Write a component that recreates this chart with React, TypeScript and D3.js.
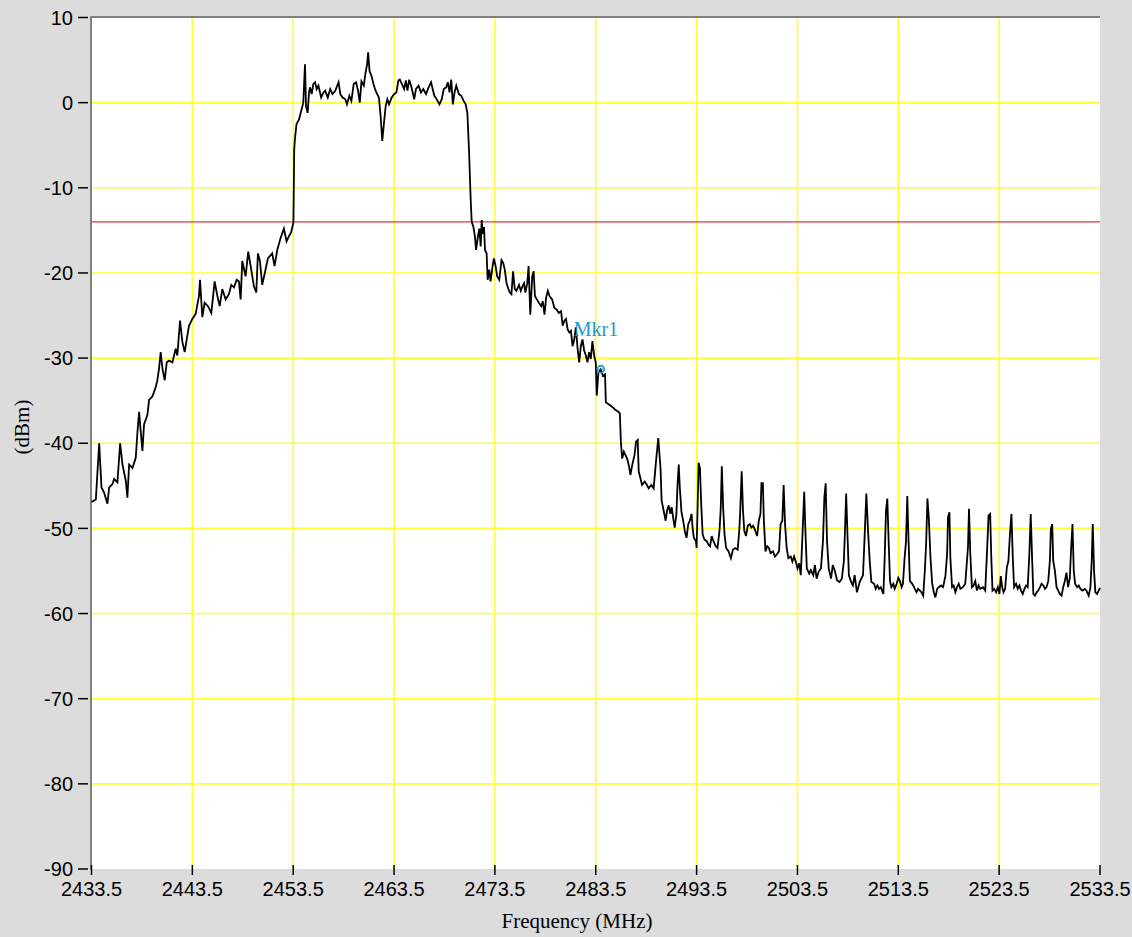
import React from 'react';
import * as d3 from 'd3';

// spectrum trace as [MHz, dBm]
const lowerSkirt: [number, number][] = [
  [2433.5, -46.9], [2433.93, -46.6], [2434.26, -40.0], [2434.49, -45.2], [2434.75, -45.8],
  [2435.08, -47.1], [2435.25, -45.2], [2435.58, -44.8], [2435.74, -44.2], [2436.07, -44.6],
  [2436.34, -40.0], [2436.57, -42.5], [2436.9, -44.4], [2437.06, -46.4], [2437.23, -42.5],
  [2437.56, -42.9], [2437.89, -41.7], [2438.05, -38.8], [2438.22, -36.3], [2438.38, -38.6],
  [2438.55, -40.9], [2438.71, -37.8], [2439.04, -36.7], [2439.21, -34.9], [2439.54, -34.5],
  [2439.87, -33.4], [2440.03, -32.6], [2440.2, -31.2], [2440.36, -29.3], [2440.53, -31.2],
  [2440.76, -32.6], [2440.96, -30.5], [2441.19, -30.3], [2441.52, -30.5], [2441.85, -28.9],
  [2442.01, -29.7], [2442.28, -25.6], [2442.51, -28.1], [2442.74, -29.3], [2443.0, -27.4],
  [2443.17, -26.2], [2443.5, -25.4], [2443.83, -24.8], [2444.16, -22.7], [2444.26, -20.8],
  [2444.49, -25.2], [2444.72, -23.5], [2445.05, -23.9], [2445.38, -24.7], [2445.71, -21.0],
  [2445.98, -22.7], [2446.21, -23.9], [2446.47, -21.9], [2446.8, -23.1], [2447.13, -22.5],
  [2447.36, -21.4], [2447.63, -21.7], [2447.89, -20.8], [2448.12, -21.0], [2448.29, -23.1],
  [2448.45, -18.6], [2448.78, -20.4], [2449.04, -17.5], [2449.28, -19.2], [2449.61, -21.6],
  [2449.84, -22.3], [2450.0, -17.7], [2450.2, -18.6], [2450.43, -21.4], [2450.76, -19.6],
  [2450.99, -18.3], [2451.42, -17.7], [2451.65, -19.2], [2451.92, -17.3], [2452.25, -15.9],
  [2452.58, -14.8], [2452.84, -16.3], [2453.07, -15.7], [2453.3, -15.2], [2453.52, -14.1],
  [2453.56, -10.0],
];

const passband: [number, number][] = [
  [2453.6, -5.5], [2453.67, -4.3], [2453.83, -2.5], [2454.07, -2.0], [2454.33, -0.8],
  [2454.5, 0.0], [2454.67, 4.5], [2454.77, -0.4], [2454.93, -1.2], [2455.07, 1.2],
  [2455.17, 1.8], [2455.33, 1.0], [2455.5, 2.2], [2455.67, 2.4], [2455.83, 1.6],
  [2456.0, 2.0], [2456.27, 0.6], [2456.5, 1.2], [2456.67, 1.4], [2456.93, 0.6],
  [2457.17, 1.6], [2457.4, 1.0], [2457.67, 1.4], [2458.0, 2.4], [2458.17, 1.0],
  [2458.4, 0.6], [2458.67, 0.4], [2458.83, -0.2], [2459.07, 0.8], [2459.27, 0.2],
  [2459.5, 2.2], [2459.73, 2.4], [2459.93, 1.4], [2460.1, 0.0], [2460.27, 2.5],
  [2460.5, 2.0], [2460.67, 3.5], [2460.83, 4.5], [2460.93, 5.9], [2461.07, 3.7],
  [2461.27, 3.1], [2461.5, 2.0], [2461.67, 1.4], [2461.83, 1.0], [2462.0, 0.6],
  [2462.17, -1.6], [2462.33, -4.5], [2462.5, -2.4], [2462.67, -0.4], [2462.83, 0.4],
  [2463.0, -0.2], [2463.27, 0.6], [2463.5, 1.0], [2463.73, 1.2], [2463.93, 2.6],
  [2464.07, 2.7], [2464.27, 2.2], [2464.5, 1.6], [2464.67, 2.6], [2464.83, 1.4],
  [2465.0, 2.7], [2465.23, 1.8], [2465.5, 0.4], [2465.67, 1.6], [2465.93, 2.0],
  [2466.17, 1.2], [2466.4, 1.6], [2466.67, 1.0], [2466.93, 1.8], [2467.17, 2.4],
  [2467.33, 1.6], [2467.5, 0.8], [2467.73, 0.4], [2468.0, -0.2], [2468.23, 0.4],
  [2468.43, 1.6], [2468.67, 1.8], [2468.83, 2.4], [2469.0, 1.2], [2469.17, 2.7],
  [2469.33, -0.2], [2469.5, 1.2], [2469.67, 2.0], [2469.93, 1.0], [2470.17, 0.8],
  [2470.4, 0.2], [2470.6, -0.2], [2470.77, -1.2], [2470.93, -5.5],
];

const upperSkirt: [number, number][] = [
  [2471.1, -11.4], [2471.2, -14.0], [2471.37, -14.6], [2471.53, -15.8], [2471.63, -17.3],
  [2471.76, -16.2], [2471.86, -15.4], [2471.96, -14.8], [2472.09, -16.9], [2472.19, -13.8],
  [2472.29, -15.4], [2472.42, -14.6], [2472.52, -17.3], [2472.68, -17.7], [2472.78, -20.8],
  [2472.94, -19.6], [2473.07, -21.0], [2473.27, -19.2], [2473.4, -18.3], [2473.57, -19.2],
  [2473.73, -20.4], [2473.93, -20.8], [2474.16, -18.5], [2474.32, -18.8], [2474.48, -19.6],
  [2474.65, -21.2], [2474.81, -21.8], [2474.98, -22.3], [2475.14, -22.5], [2475.3, -19.8],
  [2475.47, -21.9], [2475.63, -22.1], [2475.89, -21.4], [2476.06, -22.1], [2476.22, -21.6],
  [2476.39, -21.2], [2476.52, -22.3], [2476.71, -21.2], [2476.84, -19.2], [2477.01, -24.9],
  [2477.2, -20.4], [2477.34, -19.8], [2477.47, -22.7], [2477.66, -23.1], [2477.86, -23.5],
  [2478.09, -23.9], [2478.25, -23.3], [2478.42, -24.9], [2478.58, -22.9], [2478.75, -22.1],
  [2478.91, -22.7], [2479.17, -23.1], [2479.4, -24.1], [2479.63, -24.3], [2479.83, -24.7],
  [2480.06, -24.5], [2480.22, -26.2], [2480.39, -25.6], [2480.55, -25.4], [2480.71, -26.6],
  [2480.88, -27.0], [2481.04, -26.8], [2481.2, -28.6], [2481.37, -27.8], [2481.53, -26.4],
  [2481.7, -28.9], [2481.86, -30.5], [2482.02, -28.6], [2482.19, -27.8], [2482.35, -29.1],
  [2482.52, -29.7], [2482.68, -30.5], [2482.84, -29.3], [2483.01, -30.1], [2483.17, -28.0],
  [2483.34, -29.7], [2483.5, -30.5], [2483.6, -34.4], [2483.76, -31.7], [2483.99, -31.3],
  [2484.22, -32.1], [2484.42, -31.9], [2484.5, -35.2], [2484.75, -35.4], [2484.98, -35.6],
  [2485.2, -35.8], [2485.47, -36.1], [2485.73, -36.3], [2485.89, -36.5], [2485.99, -39.8],
  [2486.12, -41.8], [2486.29, -41.0], [2486.45, -41.4], [2486.61, -41.8], [2486.78, -42.6],
  [2486.94, -43.7], [2487.11, -42.6], [2487.34, -41.4], [2487.5, -39.8], [2487.66, -39.6],
  [2487.76, -43.3], [2487.93, -44.1], [2488.09, -44.9], [2488.35, -44.5], [2488.58, -44.9],
  [2488.75, -45.3], [2489.01, -44.9], [2489.24, -45.3], [2489.5, -41.8], [2489.7, -39.4],
];

const spurRegion: [number, number][] = [
  [2489.93, -43.1], [2490.03, -46.7], [2490.23, -47.9], [2490.43, -49.1], [2490.57, -47.9],
  [2490.73, -47.3], [2490.9, -48.3], [2491.03, -47.5], [2491.17, -48.7], [2491.33, -49.9],
  [2491.5, -48.3], [2491.6, -45.1], [2491.73, -42.5], [2491.83, -45.1], [2492.0, -48.1],
  [2492.17, -49.1], [2492.33, -50.3], [2492.5, -51.1], [2492.67, -49.5], [2492.83, -49.1],
  [2493.0, -48.3], [2493.1, -49.9], [2493.23, -51.1], [2493.43, -51.5], [2493.5, -52.3],
  [2493.6, -47.5], [2493.7, -42.3], [2493.83, -42.9], [2493.97, -47.5], [2494.1, -50.7],
  [2494.27, -51.3], [2494.5, -51.5], [2494.67, -51.9], [2494.83, -52.1], [2495.0, -50.9],
  [2495.17, -51.5], [2495.4, -52.1], [2495.57, -52.3], [2495.77, -50.3], [2495.9, -47.5],
  [2496.0, -42.7], [2496.13, -47.5], [2496.27, -50.7], [2496.43, -52.3], [2496.67, -52.7],
  [2496.9, -53.5], [2497.1, -52.5], [2497.33, -52.3], [2497.57, -52.5], [2497.73, -50.3],
  [2497.83, -47.9], [2497.97, -43.3], [2498.1, -47.9], [2498.23, -50.3], [2498.4, -50.9],
  [2498.57, -49.7], [2498.77, -49.5], [2498.93, -49.9], [2499.1, -49.7], [2499.27, -50.1],
  [2499.5, -50.9], [2499.67, -49.1], [2499.83, -48.3], [2499.93, -44.7], [2500.07, -44.7],
  [2500.17, -49.1], [2500.33, -52.7], [2500.5, -52.1], [2500.67, -52.3], [2500.83, -52.9],
  [2501.07, -52.7], [2501.27, -53.3], [2501.43, -53.1], [2501.67, -52.7], [2501.83, -49.5],
  [2502.0, -49.1], [2502.13, -44.9], [2502.27, -49.5], [2502.43, -52.3], [2502.6, -53.5],
  [2502.83, -53.3], [2503.0, -53.9], [2503.17, -53.3], [2503.33, -53.9], [2503.5, -54.7],
  [2503.67, -54.1], [2503.83, -55.5], [2504.0, -50.7], [2504.17, -45.7], [2504.3, -50.7],
  [2504.43, -54.7], [2504.67, -55.3], [2504.83, -54.9], [2505.07, -55.5], [2505.23, -54.3],
  [2505.4, -55.9], [2505.6, -55.1], [2505.83, -54.7], [2506.03, -51.5], [2506.17, -46.3],
  [2506.3, -44.7], [2506.43, -51.5], [2506.6, -54.7], [2506.83, -55.9], [2507.0, -54.3],
  [2507.23, -55.1], [2507.43, -56.1], [2507.67, -56.3], [2507.9, -55.9], [2508.1, -53.9],
  [2508.2, -50.7], [2508.33, -45.9], [2508.47, -51.1], [2508.6, -55.5], [2508.83, -56.3],
  [2509.0, -56.7], [2509.17, -55.5], [2509.4, -57.5], [2509.67, -56.3], [2509.83, -55.9],
  [2510.0, -55.5], [2510.17, -50.7], [2510.33, -45.9], [2510.5, -50.3], [2510.67, -53.9],
  [2510.83, -56.3],
];

const noiseFloor: [number, number][] = [
  [2511.1, -56.5], [2511.26, -57.1], [2511.43, -56.7], [2511.59, -57.1], [2511.76, -56.9],
  [2512.02, -57.7], [2512.15, -53.4], [2512.28, -47.9], [2512.41, -46.5], [2512.55, -51.8],
  [2512.68, -56.2], [2512.81, -56.9], [2513.01, -56.5], [2513.14, -57.1], [2513.34, -56.5],
  [2513.5, -55.8], [2513.66, -56.2], [2513.83, -56.9], [2513.96, -56.5], [2514.13, -53.4],
  [2514.26, -51.6], [2514.39, -46.2], [2514.52, -51.6], [2514.65, -56.2], [2514.82, -56.4],
  [2514.98, -56.7], [2515.14, -57.1], [2515.31, -57.5], [2515.47, -57.1], [2515.64, -57.3],
  [2515.8, -57.5], [2515.97, -57.9], [2516.13, -55.0], [2516.26, -51.8], [2516.39, -46.5],
  [2516.53, -48.9], [2516.69, -53.4], [2516.86, -56.5], [2517.02, -57.5], [2517.18, -58.1],
  [2517.35, -57.1], [2517.51, -56.9], [2517.74, -56.7], [2517.94, -56.9], [2518.17, -55.6],
  [2518.34, -53.0], [2518.43, -48.7], [2518.57, -48.1], [2518.66, -53.4], [2518.83, -56.9],
  [2518.99, -56.7], [2519.16, -57.5], [2519.32, -56.9], [2519.49, -56.5], [2519.65, -57.1],
  [2519.91, -56.9], [2520.14, -56.5], [2520.31, -53.8], [2520.41, -52.2], [2520.51, -47.7],
  [2520.64, -53.0], [2520.8, -56.9], [2520.97, -56.7], [2521.13, -56.2], [2521.3, -57.3],
  [2521.46, -56.7], [2521.63, -57.1], [2521.89, -56.9], [2522.12, -57.3], [2522.28, -53.2],
  [2522.45, -48.5], [2522.61, -48.3], [2522.71, -53.0], [2522.84, -57.3], [2523.01, -57.1],
  [2523.2, -57.5], [2523.37, -56.9], [2523.53, -57.7], [2523.66, -55.6], [2523.8, -56.9],
  [2523.93, -57.5], [2524.09, -57.1], [2524.26, -54.6], [2524.42, -53.8], [2524.59, -50.3],
  [2524.72, -48.3], [2524.85, -53.4], [2524.98, -56.9], [2525.18, -56.5], [2525.34, -57.1],
  [2525.51, -56.7], [2525.67, -57.3], [2525.84, -57.7], [2526.0, -57.1], [2526.17, -56.7],
  [2526.33, -56.9], [2526.49, -53.2], [2526.63, -48.3], [2526.76, -53.2], [2526.89, -57.7],
  [2527.05, -57.9], [2527.22, -57.5], [2527.38, -57.3], [2527.55, -56.9], [2527.71, -56.5],
  [2527.88, -56.7], [2528.04, -57.1], [2528.2, -56.9], [2528.37, -56.2], [2528.53, -53.8],
  [2528.63, -50.1], [2528.76, -49.5], [2528.86, -53.8], [2529.03, -55.0], [2529.19, -56.9],
  [2529.36, -57.3], [2529.52, -57.7], [2529.69, -57.9], [2529.85, -56.9], [2530.01, -56.2],
  [2530.18, -55.2], [2530.34, -56.9], [2530.51, -55.8], [2530.61, -53.0], [2530.77, -49.5],
  [2530.9, -55.0], [2531.03, -56.5], [2531.23, -56.9], [2531.39, -56.7], [2531.56, -57.1],
  [2531.76, -57.3], [2531.99, -57.1], [2532.15, -57.3], [2532.38, -57.9], [2532.55, -56.9],
  [2532.68, -53.8], [2532.78, -49.5], [2532.91, -55.0], [2533.04, -57.5], [2533.21, -57.7],
  [2533.37, -57.3], [2533.5, -57.0],
];

const xTicks = [2433.5, 2443.5, 2453.5, 2463.5, 2473.5, 2483.5, 2493.5, 2503.5, 2513.5, 2523.5, 2533.5];
const yTicks = [10, 0, -10, -20, -30, -40, -50, -60, -70, -80, -90];
const limitLine = -14;
const marker = { label: 'Mkr1', freq: 2484.0, level: -31.3 };

const W = 1132;
const H = 937;
const left = 91.5;
const right = 1100;
const top = 17.5;
const bottom = 869;

const App: React.FC = () => {
  const x = d3.scaleLinear().domain([2433.5, 2533.5]).range([left, right]);
  const y = d3.scaleLinear().domain([-90, 10]).range([bottom, top]);

  const trace = [...lowerSkirt, ...passband, ...upperSkirt, ...spurRegion, ...noiseFloor];
  const line = d3.line<[number, number]>()
    .x(d => x(d[0]))
    .y(d => y(d[1]));

  const tickFont = '"Liberation Sans", Arial, sans-serif';
  const titleFont = '"Liberation Serif", "Times New Roman", serif';
  const mx = x(marker.freq);
  const my = y(marker.level);

  return (
    <svg width={W} height={H} style={{ position: 'absolute', left: 0, top: 0 }}>
      <rect x={0} y={0} width={W} height={H} fill="#dcdcdc" />
      <rect x={left} y={top} width={right - left} height={bottom - top} fill="#ffffff" />

      {/* grid */}
      {xTicks.slice(1, -1).map(t => (
        <line key={'gx' + t} x1={x(t)} x2={x(t)} y1={top} y2={bottom} stroke="#ffff33" strokeWidth={1.6} />
      ))}
      {yTicks.slice(1, -1).map(t => (
        <line key={'gy' + t} x1={left} x2={right} y1={y(t)} y2={y(t)} stroke="#ffff33" strokeWidth={1.6} />
      ))}

      {/* limit line */}
      <line x1={left} x2={right} y1={y(limitLine)} y2={y(limitLine)} stroke="#e8333a" strokeWidth={1.4} />

      {/* frame: left + top only */}
      <line x1={left - 0.5} x2={left - 0.5} y1={top - 1} y2={bottom + 1} stroke="#808080" strokeWidth={2} />
      <line x1={left - 1} x2={right} y1={top - 0.5} y2={top - 0.5} stroke="#808080" strokeWidth={2} />

      {/* y axis ticks + labels */}
      {yTicks.map(t => (
        <g key={'ty' + t}>
          <line x1={78} x2={88} y1={y(t)} y2={y(t)} stroke="#000" strokeWidth={1.5} />
          <text x={73} y={y(t)} dy="0.36em" textAnchor="end" fontFamily={tickFont} fontSize={20} fill="#000">
            {t}
          </text>
        </g>
      ))}

      {/* x axis ticks + labels */}
      {xTicks.map(t => (
        <g key={'tx' + t}>
          <line x1={x(t)} x2={x(t)} y1={865} y2={875} stroke="#000" strokeWidth={1.5} />
          <text x={x(t)} y={896} textAnchor="middle" fontFamily={tickFont} fontSize={20} fill="#000">
            {t.toFixed(1)}
          </text>
        </g>
      ))}

      <text x={577} y={928} textAnchor="middle" fontFamily={titleFont} fontSize={21} fill="#000">
        Frequency (MHz)
      </text>
      <text
        transform="translate(29,427) rotate(-90)"
        textAnchor="middle"
        fontFamily={titleFont}
        fontSize={21}
        fill="#000"
      >
        (dBm)
      </text>

      {/* trace */}
      <path d={line(trace) ?? ''} fill="none" stroke="#000" strokeWidth={1.8} strokeLinejoin="miter" />

      {/* marker */}
      <circle cx={mx} cy={my} r={3.5} fill="none" stroke="#1a9ad0" strokeWidth={1.6} />
      <line x1={mx - 3.5} x2={mx + 3.5} y1={my} y2={my} stroke="#1a9ad0" strokeWidth={1} />
      <text x={mx - 27} y={my - 33} fontFamily={titleFont} fontSize={20} fill="#1a9ad0">
        {marker.label}
      </text>
    </svg>
  );
};

export default App;
